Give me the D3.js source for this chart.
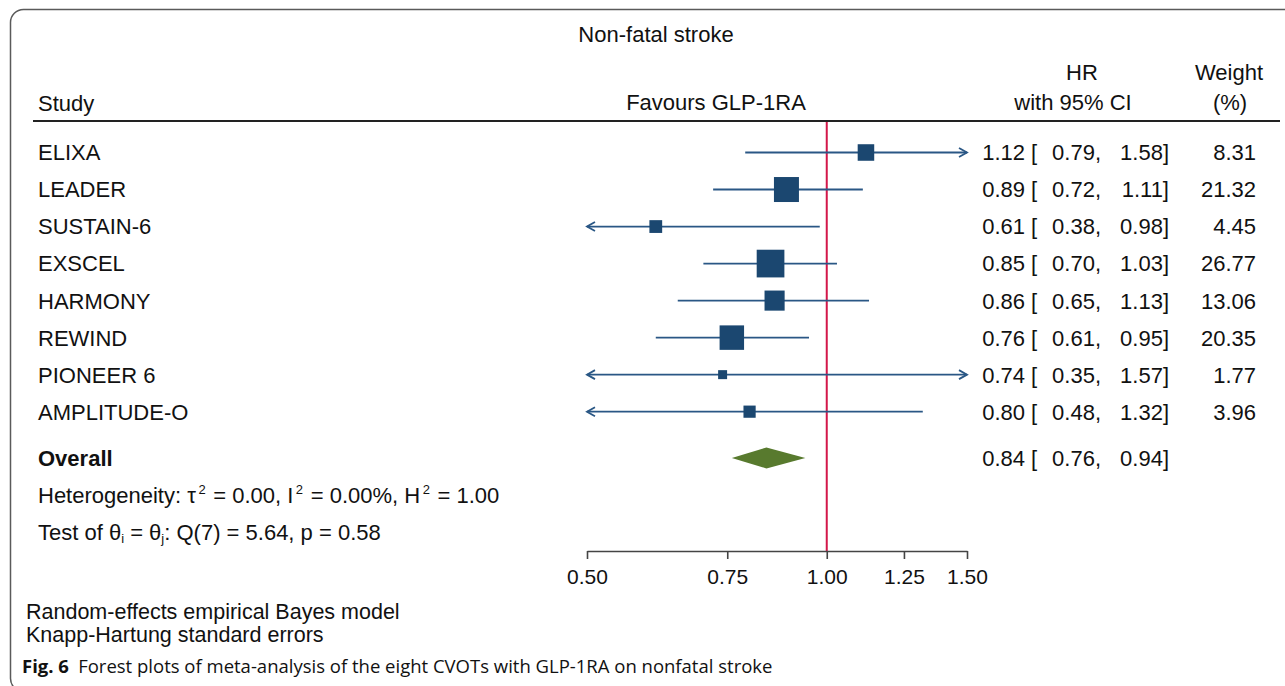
<!DOCTYPE html>
<html>
<head>
<meta charset="utf-8">
<script src="https://cdn.jsdelivr.net/npm/d3@7"></script>
<style>
  html, body { margin: 0; padding: 0; background: #fff; }
  svg { display: block; }
  text { font-family: "Liberation Sans", Arial, sans-serif; fill: #111; }
</style>
</head>
<body>
<svg id="chart" width="1285" height="686"></svg>
<script>
// ---- data ----
const studies = ["ELIXA", "LEADER", "SUSTAIN-6", "EXSCEL", "HARMONY", "REWIND", "PIONEER 6", "AMPLITUDE-O"];
const hr      = [1.12, 0.89, 0.61, 0.85, 0.86, 0.76, 0.74, 0.80];
const lower   = [0.79, 0.72, 0.38, 0.70, 0.65, 0.61, 0.35, 0.48];
const upper   = [1.58, 1.11, 0.98, 1.03, 1.13, 0.95, 1.57, 1.32];
const weights = [8.31, 21.32, 4.45, 26.77, 13.06, 20.35, 1.77, 3.96];
const overallLabel = "Overall";
const overallHR = 0.84, overallLower = 0.76, overallUpper = 0.94;
const tickValues = [0.50, 0.75, 1.00, 1.25, 1.50];
const titleText = "Non-fatal stroke";
const favoursText = "Favours GLP-1RA";
const notes = ["Random-effects empirical Bayes model", "Knapp-Hartung standard errors"];

// ---- layout ----
const svg = d3.select("#chart");
const x = d3.scaleLog().domain([0.5, 1.5]).range([587, 967]);
const y = d3.scaleLinear().domain([0, 10.25]).range([152.5, 532]);
const side = d3.scaleSqrt().domain([0, d3.max(weights)]).range([2.5, 27.7]);
const lineCol = "#2a5785", boxCol = "#1b4770", diaCol = "#587a2e", refCol = "#d3174a";
const FS = 22;

// frame
svg.append("rect").attr("x", 10.5).attr("y", 9.5).attr("width", 1300).attr("height", 682)
  .attr("rx", 13).attr("fill", "none").attr("stroke", "#5a5a5a").attr("stroke-width", 1.5);

// title & headers
svg.append("text").attr("x", 656).attr("y", 42).attr("text-anchor", "middle")
  .style("font-size", FS + "px").text(titleText);
svg.append("text").attr("x", 38).attr("y", 111).style("font-size", FS + "px").text("Study");
svg.append("text").attr("x", 716).attr("y", 110).attr("text-anchor", "middle")
  .style("font-size", FS + "px").text(favoursText);
svg.append("text").attr("x", 1082).attr("y", 80).attr("text-anchor", "middle")
  .style("font-size", FS + "px").text("HR");
svg.append("text").attr("x", 1073).attr("y", 110).attr("text-anchor", "middle")
  .style("font-size", FS + "px").text("with 95% CI");
svg.append("text").attr("x", 1229).attr("y", 80).attr("text-anchor", "middle")
  .style("font-size", FS + "px").text("Weight");
svg.append("text").attr("x", 1230).attr("y", 110).attr("text-anchor", "middle")
  .style("font-size", FS + "px").text("(%)");
svg.append("line").attr("x1", 33).attr("x2", 1280).attr("y1", 121).attr("y2", 121)
  .attr("stroke", "#222").attr("stroke-width", 2);

// reference line at 1
svg.append("line").attr("x1", x(1)).attr("x2", x(1)).attr("y1", 122).attr("y2", 551)
  .attr("stroke", refCol).attr("stroke-width", 2);

// study rows
const rows = studies.map((s, i) => ({ s, i, hr: hr[i], lo: lower[i], hi: upper[i], w: weights[i] }));
const [dMin, dMax] = x.domain();
const g = svg.append("g");
rows.forEach(d => {
  const cy = y(d.i);
  const x1 = x(Math.max(d.lo, dMin)), x2 = x(Math.min(d.hi, dMax));
  g.append("line").attr("x1", x1).attr("x2", x2).attr("y1", cy).attr("y2", cy)
    .attr("stroke", lineCol).attr("stroke-width", 1.8);
  if (d.lo < dMin) {
    g.append("path").attr("d", `M${x1 + 8},${cy - 4.5} L${x1},${cy} L${x1 + 8},${cy + 4.5}`)
      .attr("fill", "none").attr("stroke", lineCol).attr("stroke-width", 1.8);
  }
  if (d.hi > dMax) {
    g.append("path").attr("d", `M${x2 - 8},${cy - 4.5} L${x2},${cy} L${x2 - 8},${cy + 4.5}`)
      .attr("fill", "none").attr("stroke", lineCol).attr("stroke-width", 1.8);
  }
  const sz = side(d.w);
  g.append("rect").attr("x", x(d.hr) - sz / 2).attr("y", cy - sz / 2)
    .attr("width", sz).attr("height", sz).attr("fill", boxCol);
});

// text columns
const fmt = d3.format(".2f");
function rowText(i, label, est, lo, hi, w, bold) {
  const by = y(i) + 0.36 * FS;
  svg.append("text").attr("x", 38).attr("y", by).style("font-size", FS + "px")
    .style("font-weight", bold ? "bold" : "normal").text(label);
  svg.append("text").attr("x", 1025).attr("y", by).attr("text-anchor", "end")
    .style("font-size", FS + "px").text(fmt(est));
  svg.append("text").attr("x", 1031).attr("y", by).style("font-size", FS + "px").text("[");
  svg.append("text").attr("x", 1101).attr("y", by).attr("text-anchor", "end")
    .style("font-size", FS + "px").text(fmt(lo) + ",");
  svg.append("text").attr("x", 1169).attr("y", by).attr("text-anchor", "end")
    .style("font-size", FS + "px").text(fmt(hi) + "]");
  if (w != null) {
    svg.append("text").attr("x", 1256).attr("y", by).attr("text-anchor", "end")
      .style("font-size", FS + "px").text(fmt(w));
  }
}
rows.forEach(d => rowText(d.i, d.s, d.hr, d.lo, d.hi, d.w, false));

// overall
const oi = 8.25;
const oy = y(oi);
svg.append("path")
  .attr("d", `M${x(overallLower)},${oy} L${x(overallHR)},${oy - 10.5} L${x(overallUpper)},${oy} L${x(overallHR)},${oy + 10.5} Z`)
  .attr("fill", diaCol);
rowText(oi, overallLabel, overallHR, overallLower, overallUpper, null, true);

// heterogeneity / test lines: [text, shift, dx] pieces; shift<0 superscript, >0 subscript
function richText(yy, pieces) {
  const t = svg.append("text").attr("x", 38).attr("y", yy).style("font-size", FS + "px");
  let cur = 0;
  pieces.forEach(([txt, shift, dx]) => {
    const ts = t.append("tspan").attr("dy", shift - cur).attr("dx", dx || 0).text(txt);
    if (shift !== 0) ts.style("font-size", "13px");
    cur = shift;
  });
}
richText(y(9.25) + 0.36 * FS, [
  ["Heterogeneity: \u03C4", 0], ["2", -9, 2.5], [" = 0.00, I", 0, 1.5], ["2", -9, 2.5],
  [" = 0.00%, H", 0, 1.5], ["2", -9, 2.5], [" = 1.00", 0, 1.5]
]);
richText(y(10.25) + 0.36 * FS, [
  ["Test of \u03B8", 0], ["i", 3], [" = \u03B8", 0], ["j", 3], [": Q(7) = 5.64, p = 0.58", 0]
]);

// axis
const axis = d3.axisBottom(x).tickValues(tickValues).tickFormat(fmt).tickSize(8).tickSizeOuter(0);
const ax = svg.append("g").attr("transform", "translate(0,551)").call(axis);
ax.select(".domain").attr("stroke", "#444").attr("stroke-width", 1.6);
ax.selectAll(".tick line").attr("stroke", "#444").attr("stroke-width", 1.6);
ax.selectAll(".tick text").attr("y", 33).attr("dy", 0)
  .style("font-size", "21px").style("font-family", "'Liberation Sans', Arial, sans-serif").attr("fill", "#111");

// notes
notes.forEach((n, i) => {
  svg.append("text").attr("x", 26).attr("y", 619 + i * 23).style("font-size", "21.5px").text(n);
});

// caption
const cap = svg.append("text").attr("x", 22).attr("y", 673)
  .style("font-family", "'Open Sans', 'Noto Sans', sans-serif").style("font-size", "18.5px").attr("fill", "#222");
cap.append("tspan").style("font-weight", "bold").text("Fig. 6");
cap.append("tspan").text("\u2002Forest plots of meta-analysis of the eight CVOTs with GLP-1RA on nonfatal stroke");
</script>
</body>
</html>
